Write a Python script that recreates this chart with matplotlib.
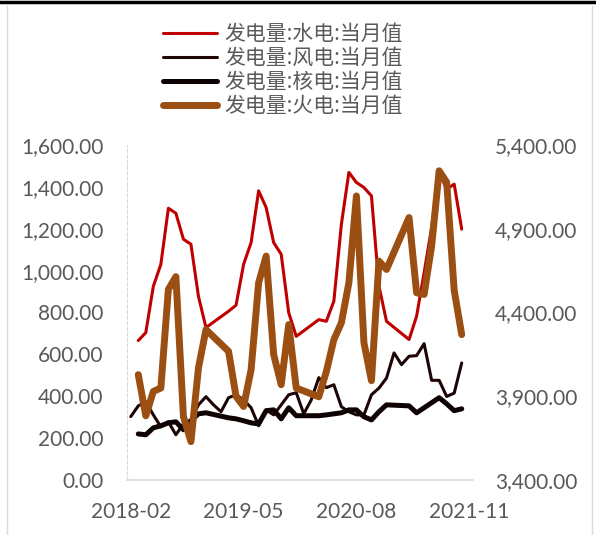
import matplotlib
matplotlib.use("Agg")
import matplotlib.pyplot as plt
import numpy as np
import pandas as pd
from matplotlib.lines import Line2D

nan = np.nan

# monthly axis 2018-02 .. 2021-11
months = pd.period_range("2018-02", "2021-11", freq="M")
tick_labels = ["2018-02", "2019-05", "2020-08", "2021-11"]

# 发电量 当月值 (left axis: hydro / wind / nuclear, right axis: thermal)
hydro = [nan, 666, 704, 925, 1030, 1298, 1274, 1150, 1126, 877, 728, nan,
         nan, 806, 835, 1030, 1134, 1381, 1301, 1134, 1078, 799, 686, nan,
         nan, 766, 758, 854, 1221, 1469, 1421, 1397, 1357, 926, 758, nan,
         nan, 671, 782, 990, 1206, 1469, 1389, 1413, 1198, nan]
wind = [303, 354, 374, 311, 254, 278, 216, 268, 287, 359, 398, 359,
        326, 393, 407, 383, 345, 259, 335, 311, 359, 407, 417, 316,
        383, 489, 441, 455, 350, 326, 311, 311, 407, 439, 487, 607,
        551, 591, 594, 651, 476, 476, 399, 415, 559, nan]
nuclear = [nan, 220, 216, 249, 259, 273, 278, 240, 283, 316, 321, nan,
           nan, 297, 292, 283, 273, 268, 331, 335, 292, 345, 307, nan,
           nan, 307, 311, 316, 321, 335, 335, 302, 287, 326, 359, nan,
           nan, 354, 321, 345, 369, 393, 364, 331, 340, nan]
thermal = [nan, 4029, 3783, 3929, 3949, 4538, 4614, 3779, 3629, 4069, 4298, nan,
           nan, 4168, 3899, 3839, 4059, 4578, 4737, 4149, 3969, 4328, 3949, nan,
           nan, 3897, 4047, 4238, 4338, 4578, 5096, 4220, 3993, 4707, 4657, nan,
           nan, 4967, 4518, 4508, 4797, 5246, 5177, 4532, 4268, nan]

labels = ["发电量:水电:当月值", "发电量:风电:当月值",
          "发电量:核电:当月值", "发电量:火电:当月值"]

df = pd.DataFrame({"hydro": hydro, "wind": wind, "nuclear": nuclear,
                   "thermal": thermal}, index=range(len(months)))

tick_color = "#595959"
plt.rcParams["font.family"] = ["Lato", "DejaVu Sans"]

fig = plt.figure(figsize=(5.96, 5.35), dpi=100)
W, H = 596, 535
ax = fig.add_axes([127 / W, 1 - 480 / H, 346 / W, 335 / H])
ax2 = ax.twinx()

style = dict(solid_joinstyle="round", solid_capstyle="round")
s = df["hydro"].dropna()
l1, = ax.plot(s.index, s.values, color="#C00000", lw=2.2, **style)
s = df["wind"].dropna()
l2, = ax.plot(s.index, s.values, color="#1E0505", lw=2.2, **style)
s = df["nuclear"].dropna()
l3, = ax.plot(s.index, s.values, color="#0E0202", lw=3.6, **style)
s = df["thermal"].dropna()
l4, = ax2.plot(s.index, s.values, color="#9C4F12", lw=5.0, **style)

ax.set_xlim(-0.5, len(months) - 0.5)
ax.set_ylim(0, 1600)
ax2.set_ylim(3400, 5400)
ax.set_yticks(np.arange(0, 1601, 200))
ax2.set_yticks(np.arange(3400, 5401, 500))
ax.yaxis.set_major_formatter(lambda v, p: f"{v:,.2f}")
ax2.yaxis.set_major_formatter(lambda v, p: f"{v:,.2f}")

tick_pos = [list(months.strftime("%Y-%m")).index(t) for t in tick_labels]
ax.set_xticks(tick_pos)
ax.set_xticklabels(tick_labels)

for a in (ax, ax2):
    a.tick_params(length=0, labelsize=15, colors=tick_color)
    for sp in a.spines.values():
        sp.set_visible(False)
ax.tick_params(axis="y", pad=17)
ax.tick_params(axis="x", pad=16)
ax2.tick_params(axis="y", pad=16)
ax.spines["bottom"].set_visible(True)
ax.spines["bottom"].set_color("#D9D9D9")
ax.spines["bottom"].set_linewidth(1.2)
ax.spines["left"].set_visible(True)
ax.spines["left"].set_color("#D9D9D9")
ax.spines["left"].set_linestyle((0, (3, 2)))
ax.spines["left"].set_linewidth(0.8)

leg = fig.legend([l1, l2, l3, l4], labels, loc="upper left",
                 bbox_to_anchor=(163 / W, 1 - 23 / H), frameon=False,
                 prop={"family": ["Noto Sans CJK SC", "DejaVu Sans"], "size": 15},
                 labelcolor=tick_color, handlelength=2.6, handletextpad=0.35,
                 labelspacing=0.1, borderpad=0, borderaxespad=0)

# outer frame of the picture
fig.add_artist(Line2D([7 / W, 7 / W], [0, 1 - 6 / H], color="#D9D9D9", lw=1))
fig.add_artist(Line2D([592 / W, 592 / W], [0, 1 - 6 / H], color="#D9D9D9", lw=1))
fig.add_artist(Line2D([0, 1], [1 - 1.5 / H, 1 - 1.5 / H], color="black", lw=2.5))

fig.savefig("out.png", dpi=100)
